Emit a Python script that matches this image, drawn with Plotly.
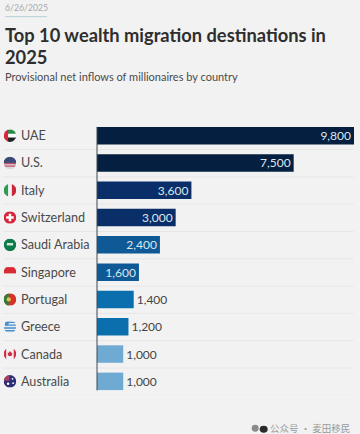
import base64
import plotly.graph_objects as go

countries = ["UAE", "U.S.", "Italy", "Switzerland", "Saudi Arabia", "Singapore", "Portugal", "Greece", "Canada", "Australia"]
inflows = [9800, 7500, 3600, 3000, 2400, 1600, 1400, 1200, 1000, 1000]
bar_colors = ["#041f3f", "#041f3f", "#0a2f68", "#0a2f68", "#0f5a96", "#0f5a96", "#0b6fae", "#0b6fae", "#6faad3", "#6faad3"]
text_positions = ["inside"] * 6 + ["outside"] * 4
text_colors = ["#dde6ee"] * 6 + ["#444444"] * 4

flags = {
    "UAE": '<rect width="20" height="20" fill="#fff"/><path d="M6 0H20V7H6z" fill="#2b8a4b"/><path d="M6 13H20V20H6z" fill="#222"/><rect width="7" height="20" fill="#d7263d"/>',
    "U.S.": '<rect width="20" height="20" fill="#d9d9e0"/><path d="M0 6H20V8H0zM0 10H20V12H0zM0 14H20V16H0z" fill="#c65062"/><rect width="20" height="10" fill="#3c4a78"/>',
    "Italy": '<rect width="20" height="20" fill="#f2f2f2"/><rect width="7" height="20" fill="#2f9a54"/><rect x="13" width="7" height="20" fill="#c9283a"/>',
    "Switzerland": '<rect width="20" height="20" fill="#d5263a"/><path d="M8 4H12V8H16V12H12V16H8V12H4V8H8z" fill="#fff"/>',
    "Saudi Arabia": '<rect width="20" height="20" fill="#0d7a4a"/><rect x="5" y="7" width="10" height="4" fill="#cfe8da"/>',
    "Singapore": '<rect width="20" height="10" y="2" fill="#d92b36"/>',
    "Portugal": '<rect width="20" height="20" fill="#d6322c"/><rect width="8" height="20" fill="#2f7d3b"/><circle cx="8" cy="10" r="3.4" fill="#e5c14c"/>',
    "Greece": '<rect width="20" height="20" fill="#e4eef6"/><path d="M4 2H20V4.2H4zM8 6.4H20V8.6H8zM0 10.8H20V13H0zM0 15.2H20V17.4H0z" fill="#4d8fc4"/><rect x="2" y="2" width="6" height="6.6" fill="#4d8fc4"/>',
    "Canada": '<rect width="4" height="20" fill="#cf2f45"/><rect x="16" width="4" height="20" fill="#cf2f45"/><path d="M10 5L12 8L14 8L13 11L14 12L10 13.5L6 12L7 11L6 8L8 8z" fill="#cf2f45"/>',
    "Australia": '<rect width="20" height="20" fill="#2c2f78"/><rect width="9" height="9" fill="#a8405f"/><circle cx="14" cy="6" r="1.4" fill="#fff"/><circle cx="15" cy="13" r="1.4" fill="#fff"/><circle cx="7" cy="14" r="2" fill="#fff"/>',
}

WIDTH, HEIGHT = 360, 434
PLOT_L, PLOT_R, PLOT_T, PLOT_B = 97, 354.5, 121.6, 395.2
rows = list(range(len(countries)))


def px(x):
    return (x - PLOT_L) / (PLOT_R - PLOT_L)


def py(y):
    return (PLOT_B - y) / (PLOT_B - PLOT_T)


FONT = "Lato, 'Open Sans', sans-serif"

fig = go.Figure(go.Bar(
    y=rows,
    x=inflows,
    orientation="h",
    marker=dict(color=bar_colors, line=dict(width=0)),
    text=[f"{v:,}" for v in inflows],
    textposition=text_positions,
    textfont=dict(color=text_colors, size=12, family=FONT),
    insidetextanchor="end",
    constraintext="none",
    cliponaxis=False,
    width=0.64,
    hoverinfo="skip",
))

annotations = []
for i, name in enumerate(countries):
    annotations.append(dict(
        x=px(18.5), xref="paper", xanchor="left", y=i, yref="y", yanchor="middle",
        text=name, showarrow=False, font=dict(family=FONT, size=12.6, color="#4a4a4a"),
    ))

for text, x, y, size, color, weight in [
    ("6/26/2025", 3, 6.5, 8.7, "#a9a9a9", "normal"),
    ("Top 10 wealth migration destinations in", 2.5, 34.5, 18.3, "#2e2e2e", "bold"),
    ("2025", 2.5, 56.5, 18.3, "#2e2e2e", "bold"),
    ("Provisional net inflows of millionaires by country", 3, 75.5, 11, "#4a4a4a", "normal"),
    ("公众号 · 麦田移民", 352, 428, 9.5, "#9a9a9a", "normal"),
]:
    annotations.append(dict(
        x=px(x), xref="paper", y=py(y), yref="paper",
        xanchor="right" if x > 300 else "left", yanchor="middle",
        text=f"<b>{text}</b>" if weight == "bold" else text, showarrow=False,
        font=dict(family=FONT if x < 300 else "Noto Sans CJK SC", size=size, color=color),
    ))

shapes = [
    dict(type="line", xref="paper", yref="paper", x0=px(5), x1=px(47), y0=py(16), y1=py(16),
         line=dict(color="#b5cfd6", width=1)),
    dict(type="line", xref="paper", yref="paper", x0=0, x1=0, y0=py(126.5), y1=py(390.5),
         line=dict(color="#3a4a55", width=1), layer="above"),
    dict(type="circle", xref="paper", yref="paper", x0=px(252), x1=px(259), y0=py(432), y1=py(425),
         fillcolor="#8a8a8a", line=dict(width=0)),
    dict(type="circle", xref="paper", yref="paper", x0=px(260), x1=px(268), y0=py(433), y1=py(426),
         fillcolor="#2a2a2a", line=dict(width=0)),
]
for i in rows:
    shapes.append(dict(
        type="line", xref="paper", yref="y", x0=px(3), x1=px(354), y0=i + 0.51, y1=i + 0.51,
        line=dict(color="#e6e6e6", width=1), layer="below",
    ))

images = []
for i, name in enumerate(countries):
    svg = (f'<svg xmlns="http://www.w3.org/2000/svg" width="40" height="40" viewBox="0 0 20 20">'
           f'<clipPath id="c"><circle cx="10" cy="10" r="10"/></clipPath>'
           f'<g clip-path="url(#c)">{flags[name]}</g></svg>')
    uri = "data:image/svg+xml;base64," + base64.b64encode(svg.encode()).decode()
    images.append(dict(
        source=uri, xref="paper", yref="y", x=px(9.8), y=i, sizex=12.6 / (PLOT_R - PLOT_L),
        sizey=0.46, xanchor="center", yanchor="middle", layer="above", sizing="contain",
    ))

fig.update_layout(
    width=WIDTH, height=HEIGHT,
    autosize=False,
    paper_bgcolor="#f2f2f2", plot_bgcolor="rgba(0,0,0,0)",
    margin=dict(l=PLOT_L, r=WIDTH - PLOT_R, t=PLOT_T, b=HEIGHT - PLOT_B, pad=0),
    xaxis=dict(range=[0, 9800], visible=False, fixedrange=True),
    yaxis=dict(range=[len(countries) - 0.5, -0.5], visible=False, fixedrange=True),
    showlegend=False,
    annotations=annotations, shapes=shapes, images=images,
)
fig.write_html(
    "out.html",
    config={"displayModeBar": False},
    post_script="document.body.style.margin='0';document.body.style.background='#f2f2f2';document.documentElement.style.overflow='hidden';",
)
